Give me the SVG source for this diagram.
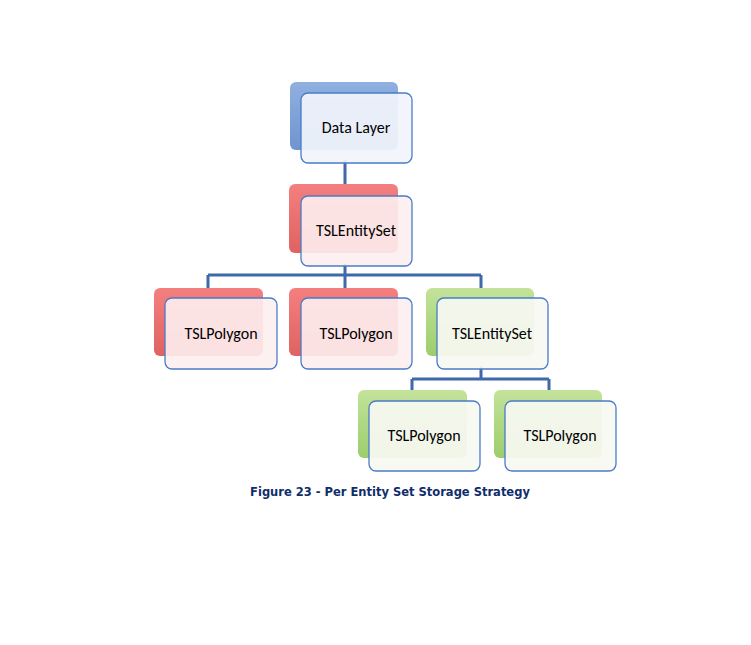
<svg xmlns="http://www.w3.org/2000/svg" width="751" height="645" viewBox="0 0 751 645">
<defs>
<linearGradient id="gb" x1="0" y1="0" x2="0" y2="1"><stop offset="0" stop-color="#8fb0e0"/><stop offset="1" stop-color="#6f94cf"/></linearGradient>
<linearGradient id="gr" x1="0" y1="0" x2="0" y2="1"><stop offset="0" stop-color="#f47f7f"/><stop offset="1" stop-color="#e06262"/></linearGradient>
<linearGradient id="gg" x1="0" y1="0" x2="0" y2="1"><stop offset="0" stop-color="#c3e39a"/><stop offset="1" stop-color="#9ccd6c"/></linearGradient>
</defs>
<style>
.f{stroke:#4a7cc6;stroke-width:1.3}
.fb{fill:#f1f4fb;fill-opacity:0.93}
.fr{fill:#fdeef0;fill-opacity:0.9}
.fg{fill:#f7f9f2;fill-opacity:0.93}
.t{font-family:Calibri,"Liberation Sans",sans-serif;font-size:16px;fill:#000;text-anchor:middle}
.c{stroke:#3f69a8;stroke-width:3;fill:none}
</style>
<rect width="751" height="645" fill="#fff"/>
<g id="connectors">
<path class="c" d="M345 160V186M345 264V275M208 275H481M208 275V290M345 275V290M481 275V290M481 366V379M412 379H549M412 379V392M549 379V392"/>
</g>
<g id="n1"><rect x="290" y="82" width="108" height="68" rx="6" fill="url(#gb)"/><rect class="f fb" x="301" y="93" width="111" height="70" rx="7"/><text class="t" x="356" y="133">Data Layer</text></g>
<g id="n2"><rect x="289" y="184" width="109" height="69" rx="6" fill="url(#gr)"/><rect class="f fr" x="301" y="196" width="111" height="70" rx="7"/><text class="t" x="356" y="236">TSLEntitySet</text></g>
<g id="n3"><rect x="154" y="288" width="109" height="68" rx="6" fill="url(#gr)"/><rect class="f fr" x="165" y="298" width="112" height="71" rx="7"/><text class="t" x="221" y="339">TSLPolygon</text></g>
<g id="n4"><rect x="289" y="288" width="109" height="68" rx="6" fill="url(#gr)"/><rect class="f fr" x="301" y="298" width="111" height="71" rx="7"/><text class="t" x="356" y="339">TSLPolygon</text></g>
<g id="n5"><rect x="426" y="288" width="108" height="68" rx="6" fill="url(#gg)"/><rect class="f fg" x="437" y="298" width="111" height="71" rx="7"/><text class="t" x="492" y="339">TSLEntitySet</text></g>
<g id="n6"><rect x="358" y="390" width="109" height="68" rx="6" fill="url(#gg)"/><rect class="f fg" x="369" y="401" width="111" height="70" rx="7"/><text class="t" x="424" y="441">TSLPolygon</text></g>
<g id="n7"><rect x="494" y="390" width="108" height="68" rx="6" fill="url(#gg)"/><rect class="f fg" x="505" y="401" width="111" height="70" rx="7"/><text class="t" x="560" y="441">TSLPolygon</text></g>
<text x="390" y="496" font-family="Verdana,'DejaVu Sans',sans-serif" font-size="11.5" font-weight="bold" fill="#0f2d6b" text-anchor="middle">Figure 23 - Per Entity Set Storage Strategy</text>
</svg>
